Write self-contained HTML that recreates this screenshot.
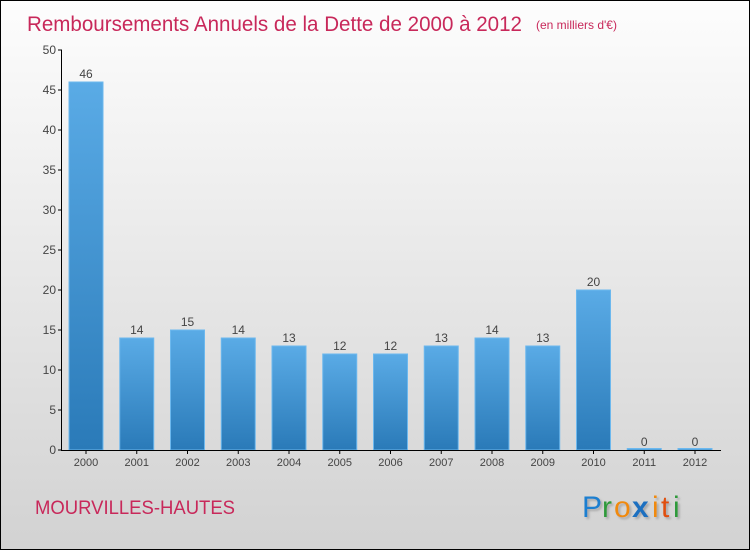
<!DOCTYPE html>
<html><head><meta charset="utf-8"><style>
body{margin:0;}
#c{position:relative;width:750px;height:550px;box-sizing:border-box;border:1px solid #000;background:linear-gradient(#fdfdfd,#d2d2d2);font-family:"Liberation Sans",sans-serif;overflow:hidden}
</style></head><body>
<div id="c">
<svg width="750" height="550" style="position:absolute;left:-1px;top:-1px">
<defs><linearGradient id="bg" x1="0" y1="0" x2="0" y2="1"><stop offset="0" stop-color="#5aabe6"/><stop offset="1" stop-color="#2a7ab8"/></linearGradient>
<filter id="sh"><feDropShadow dx="2" dy="2" stdDeviation="1" flood-color="#888" flood-opacity="0.6"/></filter></defs>
<text x="27" y="31" font-size="21" fill="#c8285a" textLength="495" lengthAdjust="spacingAndGlyphs">Remboursements Annuels de la Dette de 2000 à 2012</text>
<text x="536" y="29" font-size="12" fill="#c8285a">(en milliers d'€)</text>
<g id="plot"></g>
<text x="35" y="514" font-size="19" fill="#c8285a" textLength="200" lengthAdjust="spacingAndGlyphs">MOURVILLES-HAUTES</text>
<g filter="url(#sh)" font-size="30" font-family="'Liberation Sans',sans-serif">
<text x="582" y="517" fill="#1a7fd0">P</text><text x="602" y="517" fill="#2e9a3a">r</text><text x="614" y="517" fill="#f08a10">o</text><text x="632" y="517" fill="#1a6fc0" font-weight="bold">x</text><text x="652" y="517" fill="#f08a10">i</text><text x="661" y="517" fill="#e05010">t</text><text x="673" y="517" fill="#2e9a3a">i</text></g>
</svg>
</div>
<script>
const years=["2000","2001","2002","2003","2004","2005","2006","2007","2008","2009","2010","2011","2012"];
const values=[46,14,15,14,13,12,12,13,14,13,20,0,0];
const ticks=[0,5,10,15,20,25,30,35,40,45,50];
const ns="http://www.w3.org/2000/svg",g=document.getElementById("plot");
const y=v=>450-v*8, x=i=>86+i*50.75;
function el(t,a,txt){const e=document.createElementNS(ns,t);for(const k in a)e.setAttribute(k,a[k]);if(txt!==undefined)e.textContent=txt;g.appendChild(e);return e;}
values.forEach((v,i)=>{
 const h=Math.max(v*8,1.5);
 const b=el("rect",{x:x(i)-17,y:450-h,width:34,height:h,fill:"url(#bg)",stroke:"#6cb8ee","stroke-width":1});
 
 
 const l=el("text",{x:x(i),y:y(v)-4,"font-size":12,fill:"#444","text-anchor":"middle"},String(v));
 
 
 const t=el("text",{x:x(i),y:466,"font-size":11,fill:"#444","text-anchor":"middle"},years[i]);
 
 
 el("line",{x1:x(i),x2:x(i),y1:450,y2:454,stroke:"#000"});
});
ticks.forEach(v=>{
 el("line",{x1:58,x2:62,y1:y(v),y2:y(v),stroke:"#000"});
 const t=el("text",{x:56,y:y(v)+4,"font-size":12,fill:"#444","text-anchor":"end"},String(v));
 
 
});
const ya=el("line",{x1:61.5,x2:61.5,y1:50,y2:450,stroke:"#000"});


const xa=el("line",{x1:61,x2:721,y1:450.5,y2:450.5,stroke:"#000"});


</script>
</body></html>
